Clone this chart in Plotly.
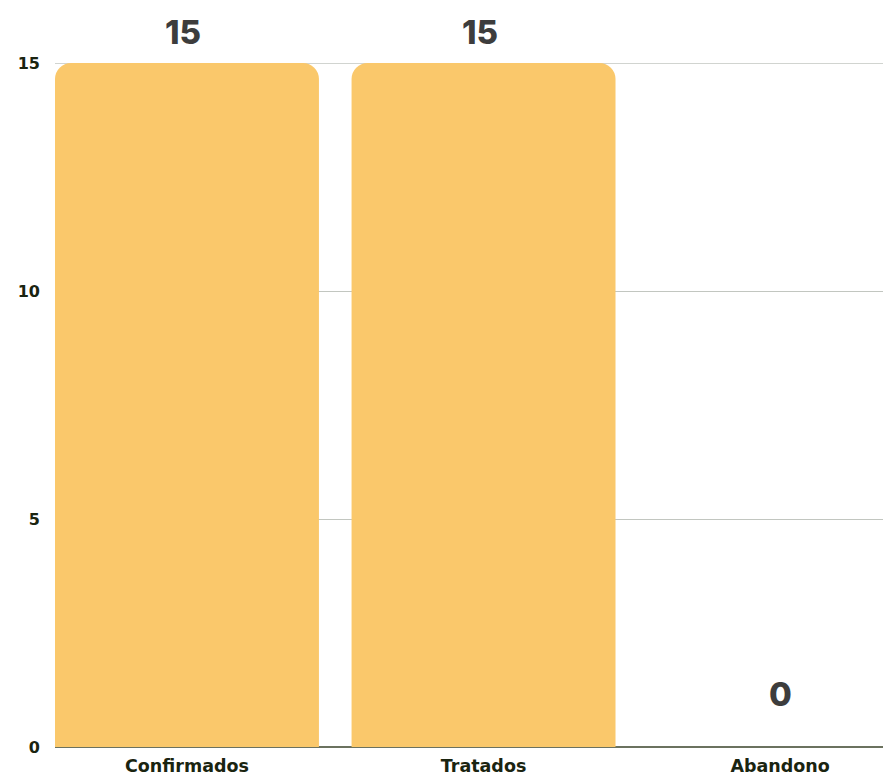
import plotly.graph_objects as go

categories = ["Confirmados", "Tratados", "Abandono"]
values = [15, 15, 0]
y_ticks = [0, 5, 10, 15]

BAR_COLOR = "#fac86b"
LABEL_COLOR = "#3d3d3d"
AXIS_TEXT = "#1a2410"
GRID_COLOR = "#c2c6c0"
AXIS_FONT = "DejaVu Sans"
VALUE_FONT = "Inter"

fig = go.Figure(
    go.Bar(
        x=categories,
        y=values,
        marker=dict(color=BAR_COLOR, line=dict(width=0)),
        hoverinfo="skip",
    )
)

# value labels above each bar
for cat, val in zip(categories, values):
    fig.add_annotation(
        x=cat, y=val, text=str(val), showarrow=False,
        yanchor="bottom", yshift=9 if val > 0 else 31, xshift=-4 if val > 0 else 0,
        font=dict(family=VALUE_FONT, size=33, color=LABEL_COLOR, weight=800),
    )

# top gridline sits on the range edge, so draw it explicitly behind the bars
fig.add_shape(
    type="line", xref="paper", x0=0, x1=1, yref="y", y0=max(y_ticks), y1=max(y_ticks),
    line=dict(color=GRID_COLOR, width=1.5), layer="below",
)

fig.update_layout(
    width=883, height=774,
    margin=dict(l=55, r=0, t=63, b=27),
    paper_bgcolor="white", plot_bgcolor="white",
    bargap=0.11, barcornerradius=16,
    showlegend=False,
    font=dict(family=AXIS_FONT, color=AXIS_TEXT),
)
fig.update_xaxes(
    range=[-0.445, 2.347], automargin=False,
    showgrid=False, showline=False, ticks="",
    tickfont=dict(family=AXIS_FONT, size=17.5, color=AXIS_TEXT, weight="bold"),
    ticklabelstandoff=6,
)
fig.update_yaxes(
    range=[0, 15], automargin=False,
    tickvals=y_ticks, ticktext=[str(t) for t in y_ticks],
    showgrid=True, gridcolor=GRID_COLOR, gridwidth=1,
    zeroline=True, zerolinecolor="#6b725f", zerolinewidth=2,
    showline=False, ticks="",
    tickfont=dict(family=AXIS_FONT, size=16, color=AXIS_TEXT, weight="bold"),
    ticklabelstandoff=14,
)

fig.write_html("out.html")
